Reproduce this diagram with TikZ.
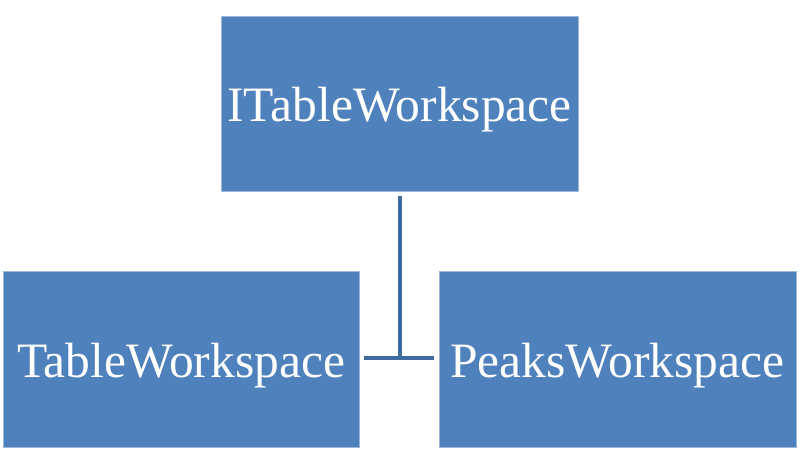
\documentclass[tikz,border=0pt]{standalone}
\usepackage{fontspec}
\setmainfont{Liberation Serif}
\definecolor{boxfill}{HTML}{4F81BD}
\definecolor{boxedge}{HTML}{9DB7D9}
\definecolor{linecol}{HTML}{3E6A9E}
\begin{document}
\begin{tikzpicture}[x=1pt,y=-1pt,
  cls/.style={rectangle, fill=boxfill, draw=boxedge, line width=0.8pt, text=white,
    font=\fontsize{49.5}{54}\selectfont, inner sep=0pt, text height=37pt, text depth=0pt},
  conn/.style={draw=linecol, line width=3.6pt}]
\useasboundingbox (0,0) rectangle (800,465);
\node[cls, minimum width=357pt, minimum height=175pt] (top) at (399.5,103.5) {ITableWorkspace};
\node[cls, minimum width=356pt, minimum height=176pt] (left) at (181,359) {TableWorkspace};
\node[cls, minimum width=357pt, minimum height=176pt] (right) at (617.5,359) {PeaksWorkspace};
\coordinate (junc) at (400,358);
\draw[conn, shorten <=5pt] (top.south -| junc) -- (junc);
\draw[conn, shorten <=5pt, shorten >=5pt] (left.east |- junc) -- (right.west |- junc);
\end{tikzpicture}
\end{document}
